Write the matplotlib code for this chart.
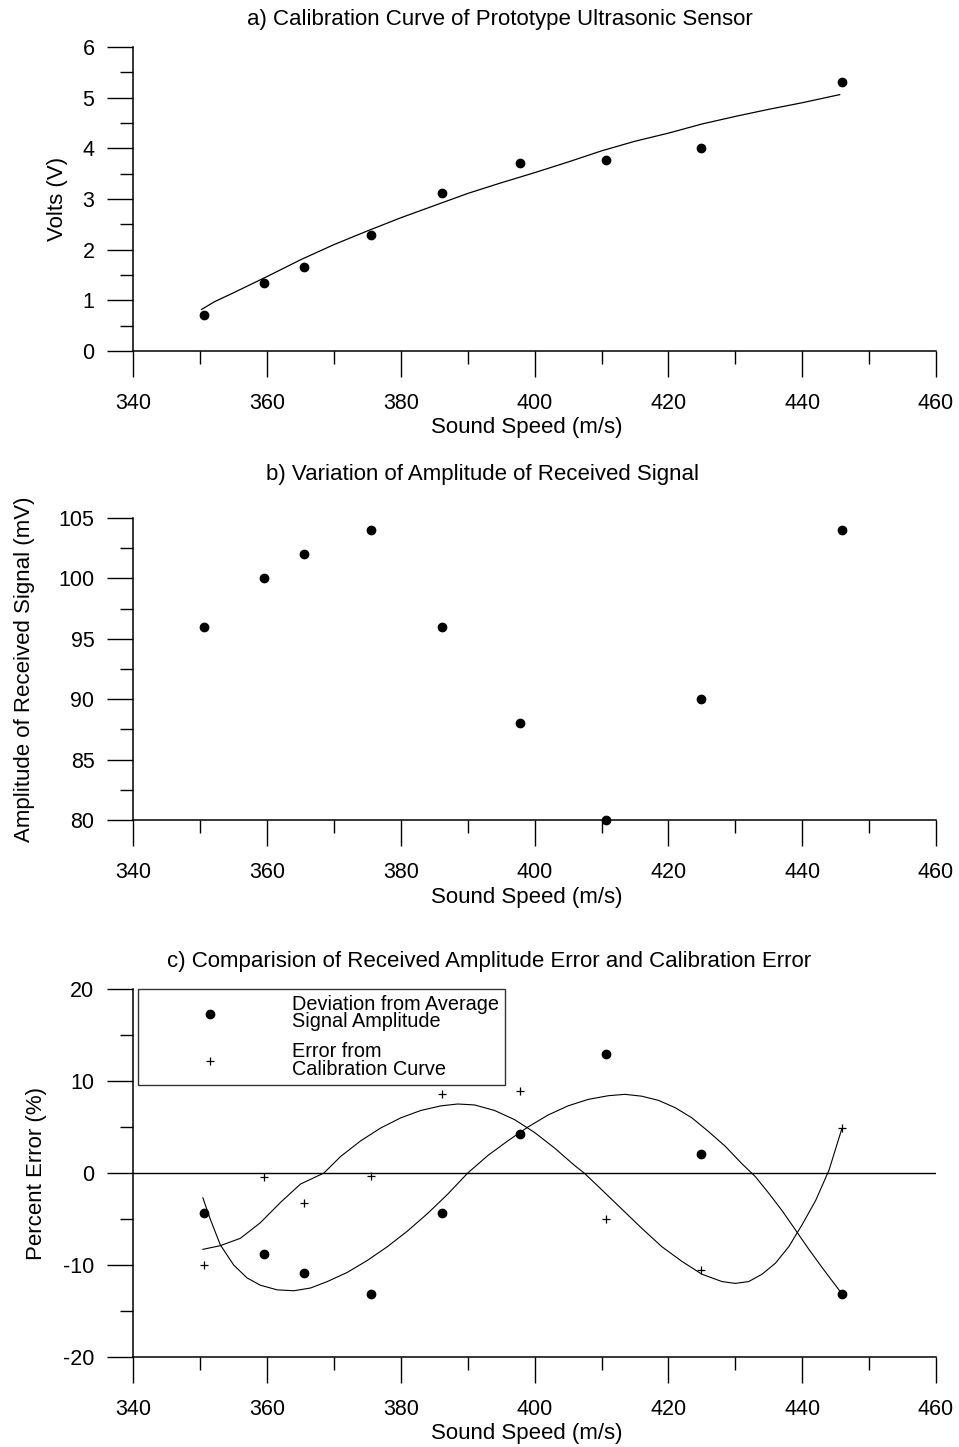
"""
Three stacked panels for the prototype ultrasonic sensor:
calibration, received amplitude, and percent error comparison.
"""

import matplotlib
matplotlib.use("Agg")
import matplotlib.pyplot as plt
from matplotlib.ticker import MultipleLocator

plt.rcParams['font.family'] = ['Liberation Sans', 'DejaVu Sans']
plt.rcParams['axes.unicode_minus'] = False

# sound speed of each measurement (m/s)
sound_speed = [350.5, 359.5, 365.5, 375.5, 386.1, 397.8, 410.6, 424.9, 446.0]

# a) calibration
volts = [0.71, 1.35, 1.66, 2.28, 3.11, 3.72, 3.76, 4.00, 5.31]
calib_fit_x = [350.2, 352.1, 355.0, 360.0, 365.0, 370.0, 375.0, 380.0, 385.0,
               390.0, 395.0, 400.0, 405.0, 410.0, 415.0, 420.0, 425.0, 430.0,
               435.0, 440.0, 445.6]
calib_fit_y = [0.82, 0.97, 1.15, 1.47, 1.80, 2.10, 2.37, 2.63, 2.87,
               3.11, 3.32, 3.52, 3.73, 3.95, 4.14, 4.30, 4.48, 4.63,
               4.77, 4.90, 5.06]

# b) received amplitude (mV)
amplitude = [96, 100, 102, 104, 96, 88, 80, 90, 104]

# c) percent errors
amp_deviation = [-4.4, -8.8, -10.9, -13.1, -4.4, 4.2, 12.9, 2.1, -13.1]
calib_error = [-10.0, -0.4, -3.3, -0.3, 8.6, 8.9, -5.0, -10.5, 4.9]

dev_fit_x = [350.4, 351.5, 353.0, 355.0, 357.0, 359.0, 361.5, 364.0, 366.5,
             369.0, 372.0, 375.0, 378.0, 381.0, 384.0, 387.0, 390.0, 393.0,
             396.0, 399.0, 402.0, 405.0, 408.0, 411.0, 413.5, 416.0, 418.5,
             421.0, 423.5, 426.0, 428.5, 431.0, 433.0, 435.0, 437.0, 439.0,
             441.0, 443.0, 445.9]
dev_fit_y = [-2.7, -5.0, -7.8, -10.0, -11.4, -12.2, -12.7, -12.8, -12.5,
             -11.8, -10.8, -9.5, -8.0, -6.3, -4.4, -2.3, 0.0, 1.9,
             3.5, 5.0, 6.3, 7.3, 8.0, 8.4, 8.55, 8.35, 7.9,
             7.1, 6.0, 4.5, 2.9, 1.0, -0.4, -2.2, -4.1, -6.2,
             -8.3, -10.3, -13.1]

err_fit_x = [350.4, 353.0, 356.0, 359.0, 362.0, 365.0, 368.5, 371.0, 374.0,
             377.0, 380.0, 383.0, 386.0, 388.5, 391.0, 394.0, 397.0, 400.0,
             403.0, 406.0, 407.4, 410.0, 413.0, 416.0, 419.0, 422.0, 425.0,
             428.0, 430.0, 432.0, 434.0, 436.0, 438.0, 440.0, 442.0, 444.0,
             445.9]
err_fit_y = [-8.3, -7.9, -7.1, -5.4, -3.2, -1.2, 0.0, 1.8, 3.5,
             4.9, 6.0, 6.8, 7.3, 7.5, 7.4, 6.8, 5.8, 4.4,
             2.7, 0.8, 0.0, -1.8, -3.9, -6.0, -8.0, -9.6, -11.0,
             -11.8, -12.0, -11.8, -11.0, -9.8, -8.0, -5.6, -3.0, 0.3,
             4.75]

W, H = 959, 1447
LEFT, RIGHT = 133.3, 936.0


def make_axes(fig, top, bottom):
    """Axes placed by pixel rows of the reference."""
    ax = fig.add_axes([LEFT / W, 1 - bottom / H, (RIGHT - LEFT) / W, (bottom - top) / H])
    for side in ("top", "right"):
        ax.spines[side].set_visible(False)
    for side in ("left", "bottom"):
        ax.spines[side].set_linewidth(1.1)
    ax.set_xlim(340, 460)
    ax.xaxis.set_major_locator(MultipleLocator(20))
    ax.xaxis.set_minor_locator(MultipleLocator(10))
    ax.tick_params(which="major", direction="out", length=19, width=1.0,
                   labelsize=15.5, pad=11)
    ax.tick_params(which="minor", direction="out", length=9.5, width=1.0)
    ax.tick_params(axis="y", which="major", pad=9)
    ax.set_xlabel("Sound Speed (m/s)", fontsize=16, va="center")
    ax.xaxis.set_label_coords((527 - LEFT) / (RIGHT - LEFT), -(77.0) / (bottom - top))
    return ax


def ylabel(ax, text, x_px):
    ax.set_ylabel(text, fontsize=16, va="center")
    ax.yaxis.set_label_coords((x_px - LEFT) / (RIGHT - LEFT), 0.5)


fig = plt.figure(figsize=(W / 100, H / 100), dpi=100)
fig.patch.set_facecolor("white")

# ---- a) calibration curve
ax1 = make_axes(fig, 47, 351)
ax1.set_ylim(0, 6)
ax1.yaxis.set_major_locator(MultipleLocator(1))
ax1.yaxis.set_minor_locator(MultipleLocator(0.5))
ax1.plot(calib_fit_x, calib_fit_y, color="black", lw=0.9)
ax1.plot(sound_speed, volts, "o", color="black", ms=6, clip_on=False)
ylabel(ax1, "Volts (V)", 58)
fig.text(500 / W, 1 - 20 / H, "a) Calibration Curve of Prototype Ultrasonic Sensor",
         ha="center", va="center", fontsize=16)

# ---- b) amplitude of received signal
ax2 = make_axes(fig, 518, 820)
ax2.set_ylim(80, 105)
ax2.yaxis.set_major_locator(MultipleLocator(5))
ax2.yaxis.set_minor_locator(MultipleLocator(2.5))
ax2.plot(sound_speed, amplitude, "o", color="black", ms=6, clip_on=False)
ylabel(ax2, "Amplitude of Received Signal (mV)", 25)
fig.text(482 / W, 1 - 475 / H, "b) Variation of Amplitude of Received Signal",
         ha="center", va="center", fontsize=16)

# ---- c) percent error comparison
ax3 = make_axes(fig, 989, 1357)
ax3.set_ylim(-20, 20)
ax3.yaxis.set_major_locator(MultipleLocator(10))
ax3.yaxis.set_minor_locator(MultipleLocator(5))
ax3.axhline(0, color="black", lw=1.0)
ax3.plot(dev_fit_x, dev_fit_y, color="black", lw=0.8)
ax3.plot(err_fit_x, err_fit_y, color="black", lw=0.8)
ax3.plot(sound_speed, amp_deviation, "o", color="black", ms=6, clip_on=False,
         label="Deviation from Average\nSignal Amplitude")
ax3.plot(sound_speed, calib_error, "+", color="black", ms=6, mew=0.9, clip_on=False,
         label="Error from\nCalibration Curve")
ylabel(ax3, "Percent Error (%)", 37)
leg = ax3.legend(loc="upper left", bbox_to_anchor=(5 / (RIGHT - LEFT), 1.0),
                 fontsize=14.3, frameon=True, fancybox=False, borderaxespad=0,
                 borderpad=0.3, handlelength=6.6, handletextpad=0.86,
                 labelspacing=0.55)
for t in leg.get_texts():
    t.set_linespacing(0.9)
leg.get_frame().set_edgecolor("black")
leg.get_frame().set_linewidth(1.0)
fig.text(489 / W, 1 - 962 / H,
         "c) Comparision of Received Amplitude Error and Calibration Error",
         ha="center", va="center", fontsize=16)

fig.savefig("out.png", dpi=100)
